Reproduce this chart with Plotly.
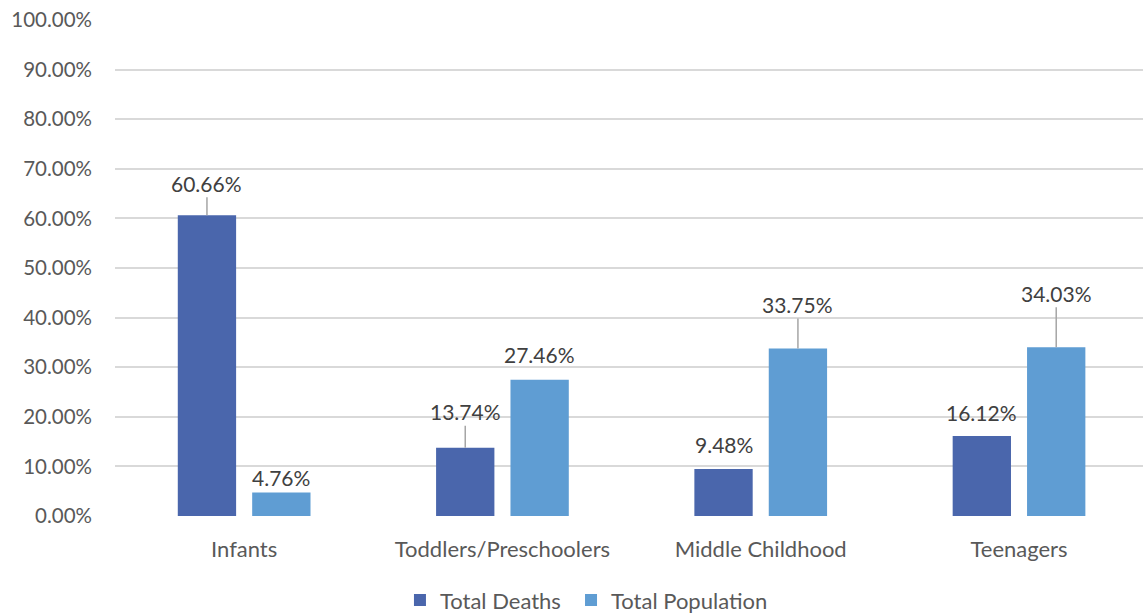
import plotly.graph_objects as go

categories = ["Infants", "Toddlers/Preschoolers", "Middle Childhood", "Teenagers"]
total_deaths = [60.66, 13.74, 9.48, 16.12]
total_population = [4.76, 27.46, 33.75, 34.03]
y_ticks = [0, 10, 20, 30, 40, 50, 60, 70, 80, 90, 100]

DARK = "#4A66AC"
LIGHT = "#5F9DD3"
FONT = "Lato"

# label placement (pixels above bar top, leader line on/off)
deaths_label = [(32, True), (36, True), (24, False), (24, False)]
pop_label = [(15, False), (25, False), (44, True), (54, True)]

fig = go.Figure()
fig.add_trace(go.Bar(x=categories, y=total_deaths, name="Total Deaths", legend="legend",
                     marker=dict(color=DARK, line=dict(width=0))))
fig.add_trace(go.Bar(x=categories, y=total_population, name="Total Population", legend="legend2",
                     marker=dict(color=LIGHT, line=dict(width=0))))

SHIFT = 37.2
annotations = []
for series, labels, xs in ((total_deaths, deaths_label, -SHIFT), (total_population, pop_label, SHIFT)):
    for cat, v, (off, leader) in zip(categories, series, labels):
        txt = f"{v:.2f}%"
        if leader:
            annotations.append(dict(x=cat, y=v, xref="x", yref="y", text=txt,
                                    showarrow=True, arrowhead=0, arrowwidth=1.5,
                                    arrowcolor="#A6A6A6", ax=0, ay=-off, xshift=xs,
                                    font=dict(family=FONT, size=21, color="#404040")))
        else:
            annotations.append(dict(x=cat, y=v, xref="x", yref="y", text=txt,
                                    showarrow=False, xanchor="center", yanchor="middle",
                                    yshift=off, xshift=xs,
                                    font=dict(family=FONT, size=21, color="#404040")))

legend_style = dict(orientation="h", xanchor="left", y=0.021, yref="container",
                    yanchor="middle", font=dict(family=FONT, size=22, color="#595959"),
                    itemwidth=30, bgcolor="rgba(0,0,0,0)")

fig.update_layout(
    width=1143, height=613,
    margin=dict(l=115, r=0, t=20, b=97),
    plot_bgcolor="white", paper_bgcolor="white",
    barmode="group", bargap=0.424, bargroupgap=0.216,
    font=dict(family=FONT, size=20, color="#595959"),
    showlegend=True,
    legend=dict(x=0.2772, **legend_style),
    legend2=dict(x=0.4436, **legend_style),
    annotations=annotations,
    xaxis=dict(range=[-0.5, 3.48], showgrid=False, zeroline=False, showline=False,
               ticks="", ticklabelstandoff=18, tickfont=dict(size=22)),
    yaxis=dict(range=[0, 100], tickvals=y_ticks,
               ticktext=[f"{t:.2f}%" for t in y_ticks],
               showgrid=True, gridcolor="#D9D9D9", gridwidth=1.5,
               zeroline=False, showline=False, ticks="", ticklabelstandoff=22,
               tickfont=dict(size=20.5)),
)

fig.write_html("out.html")
